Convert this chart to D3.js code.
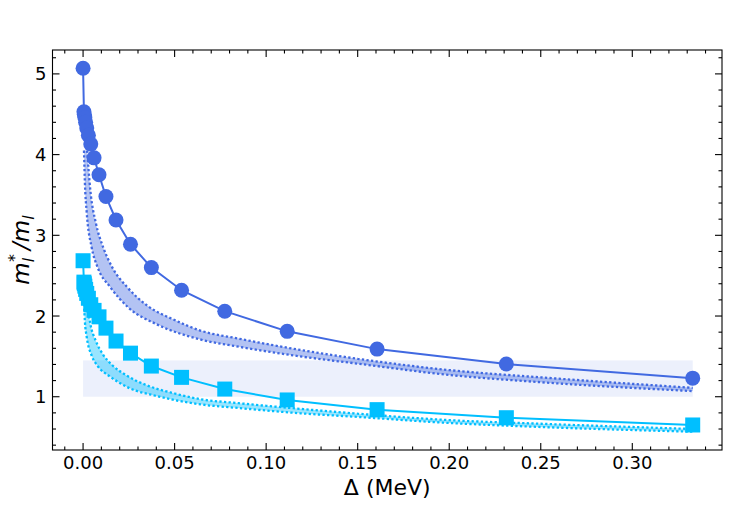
<!DOCTYPE html>
<html lang="en">
<head>
<meta charset="utf-8">
<style>
  body { margin: 0; background: #fff; }
  svg { font-family: "DejaVu Sans", sans-serif; }
  .tick-label { font-size: 18px; fill: #000; }
</style>
</head>
<body>
<svg width="738" height="523"></svg>
<script src="https://cdn.jsdelivr.net/npm/d3@7/dist/d3.min.js"></script>
<script>
// circles (royal blue) series
var circX = [0, 0.00047, 0.00067, 0.00097, 0.0014, 0.002, 0.0029, 0.0042, 0.006, 0.0087, 0.0125, 0.018, 0.0259, 0.0373, 0.0538, 0.0774, 0.1115, 0.1606, 0.2312, 0.333];
var circY = [5.07, 4.53, 4.50, 4.46, 4.40, 4.33, 4.24, 4.13, 3.96, 3.75, 3.48, 3.19, 2.89, 2.60, 2.32, 2.06, 1.81, 1.59, 1.405, 1.23];
// squares (deep sky blue) series
var sqX = circX;
var sqY = [2.685, 2.42, 2.40, 2.37, 2.33, 2.28, 2.22, 2.14, 2.07, 1.99, 1.85, 1.69, 1.54, 1.38, 1.24, 1.095, 0.96, 0.84, 0.74, 0.65];

// blue band edges
var blueUpX = [0.0022, 0.004, 0.007, 0.011, 0.016, 0.024, 0.035, 0.05, 0.064, 0.085, 0.1186, 0.15, 0.2, 0.25, 0.333];
var blueUpY = [4.05, 3.55, 3.15, 2.85, 2.6, 2.36, 2.13, 1.95, 1.82, 1.72, 1.58, 1.47, 1.33, 1.24, 1.11];
var blueLoX = [0.0005, 0.001, 0.002, 0.0047, 0.008, 0.0148, 0.025, 0.04, 0.064, 0.085, 0.1186, 0.15, 0.2, 0.25, 0.333];
var blueLoY = [4.05, 3.65, 3.28, 2.85, 2.6, 2.36, 2.1, 1.9, 1.71, 1.62, 1.50, 1.41, 1.27, 1.18, 1.07];

// cyan band edges
var cyanUpX = [0.0022, 0.004, 0.007, 0.011, 0.016, 0.024, 0.035, 0.05, 0.064, 0.085, 0.1186, 0.15, 0.2, 0.25, 0.333];
var cyanUpY = [2.17, 1.90, 1.69, 1.52, 1.39, 1.26, 1.14, 1.04, 0.97, 0.92, 0.85, 0.79, 0.71, 0.665, 0.60];
var cyanLoX = [0.0005, 0.001, 0.002, 0.0047, 0.008, 0.0148, 0.025, 0.04, 0.064, 0.085, 0.1186, 0.15, 0.2, 0.25, 0.333];
var cyanLoY = [2.15, 1.93, 1.74, 1.51, 1.38, 1.25, 1.11, 1.01, 0.906, 0.86, 0.795, 0.75, 0.675, 0.625, 0.567];

// shaded reference band
var refBandX = [0, 0.333];
var refBandY = [1.0, 1.45];

var xTicks = [0, 0.05, 0.10, 0.15, 0.20, 0.25, 0.30];
var yTicks = [1, 2, 3, 4, 5];

var blue = "#4169e1", cyan = "#00bfff";

var svg = d3.select("svg");
var pLeft = 52.5, pRight = 722, pTop = 50, pBottom = 450;

var x = d3.scaleLinear().domain([-0.0167, 0.349]).range([pLeft, pRight]);
var y = d3.scaleLinear().domain([0.34, 5.296]).range([pBottom, pTop]);

svg.append("defs").append("clipPath").attr("id", "clip")
    .append("rect").attr("x", pLeft).attr("y", pTop)
    .attr("width", pRight - pLeft).attr("height", pBottom - pTop);

var plot = svg.append("g").attr("clip-path", "url(#clip)");

// reference band
plot.append("rect")
    .attr("x", x(refBandX[0])).attr("width", x(refBandX[1]) - x(refBandX[0]))
    .attr("y", y(refBandY[1])).attr("height", y(refBandY[0]) - y(refBandY[1]))
    .attr("fill", blue).attr("fill-opacity", 0.1);

function pts(xs, ys) { return xs.map(function (d, i) { return [d, ys[i]]; }); }

var smooth = d3.line().x(function (d) { return x(d[0]); }).y(function (d) { return y(d[1]); })
    .curve(d3.curveMonotoneX);

function band(upX, upY, loX, loY, color) {
    var up = pts(upX, upY), lo = pts(loX, loY);
    var path = smooth(up) + "L" + smooth(lo.slice().reverse()).slice(1) + "Z";
    plot.append("path").attr("d", path).attr("fill", color).attr("fill-opacity", 0.4).attr("stroke", "none");
    [up, lo].forEach(function (p) {
        plot.append("path").attr("d", smooth(p)).attr("fill", "none")
            .attr("stroke", color).attr("stroke-width", 2.3)
            .attr("stroke-dasharray", "2.3,2.3");
    });
}
band(cyanUpX, cyanUpY, cyanLoX, cyanLoY, cyan);
band(blueUpX, blueUpY, blueLoX, blueLoY, blue);

var straight = d3.line().x(function (d) { return x(d[0]); }).y(function (d) { return y(d[1]); });

plot.append("path").attr("d", straight(pts(sqX, sqY)))
    .attr("fill", "none").attr("stroke", cyan).attr("stroke-width", 2);
plot.selectAll(".sq").data(pts(sqX, sqY)).enter().append("rect")
    .attr("class", "sq")
    .attr("x", function (d) { return x(d[0]) - 7.5; })
    .attr("y", function (d) { return y(d[1]) - 7.5; })
    .attr("width", 15).attr("height", 15).attr("fill", cyan);

plot.append("path").attr("d", straight(pts(circX, circY)))
    .attr("fill", "none").attr("stroke", blue).attr("stroke-width", 2);
plot.selectAll(".circ").data(pts(circX, circY)).enter().append("circle")
    .attr("class", "circ")
    .attr("cx", function (d) { return x(d[0]); })
    .attr("cy", function (d) { return y(d[1]); })
    .attr("r", 7.5).attr("fill", blue);

// frame and ticks (inward, all four sides)
svg.append("rect").attr("x", pLeft).attr("y", pTop)
    .attr("width", pRight - pLeft).attr("height", pBottom - pTop)
    .attr("fill", "none").attr("stroke", "#000").attr("stroke-width", 1.1);

var ticks = svg.append("g").attr("stroke", "#000").attr("stroke-width", 1.1);
var xMinor = d3.range(-1, 35).map(function (i) { return i / 100; });
xMinor.forEach(function (v) {
    var major = xTicks.some(function (t) { return Math.abs(t - v) < 1e-9; });
    var len = major ? 7 : 3.5;
    ticks.append("line").attr("x1", x(v)).attr("x2", x(v)).attr("y1", pBottom).attr("y2", pBottom - len);
    ticks.append("line").attr("x1", x(v)).attr("x2", x(v)).attr("y1", pTop).attr("y2", pTop + len);
});
var yMinor = d3.range(2, 27).map(function (i) { return i / 5; });
yMinor.forEach(function (v) {
    var major = yTicks.some(function (t) { return Math.abs(t - v) < 1e-9; });
    var len = major ? 7 : 3.5;
    ticks.append("line").attr("y1", y(v)).attr("y2", y(v)).attr("x1", pLeft).attr("x2", pLeft + len);
    ticks.append("line").attr("y1", y(v)).attr("y2", y(v)).attr("x1", pRight).attr("x2", pRight - len);
});

svg.selectAll(".xl").data(xTicks).enter().append("text")
    .attr("class", "tick-label")
    .attr("x", function (d) { return x(d); }).attr("y", 469)
    .attr("text-anchor", "middle")
    .text(function (d) { return d.toFixed(2); });

svg.selectAll(".yl").data(yTicks).enter().append("text")
    .attr("class", "tick-label")
    .attr("x", 46.5).attr("y", function (d) { return y(d); })
    .attr("dy", "0.36em")
    .attr("text-anchor", "end")
    .text(function (d) { return d; });

svg.append("text").attr("x", (pLeft + pRight) / 2).attr("y", 495)
    .attr("text-anchor", "middle").attr("font-size", 22)
    .text("\u0394 (MeV)");

var yl = svg.append("text").attr("transform", "translate(29," + ((pTop + pBottom) / 2) + ") rotate(-90)")
    .attr("text-anchor", "middle").attr("font-size", 23);
yl.append("tspan").attr("font-style", "italic").text("m");
yl.append("tspan").attr("font-style", "italic").attr("font-size", 16).attr("dy", 5).text("l");
yl.append("tspan").attr("font-size", 16).attr("dy", -14).attr("dx", -4).text("*");
yl.append("tspan").attr("dy", 9).attr("dx", 4).attr("font-style", "italic").text("/m");
yl.append("tspan").attr("font-style", "italic").attr("font-size", 16).attr("dy", 5).text("l");
</script>
</body>
</html>
